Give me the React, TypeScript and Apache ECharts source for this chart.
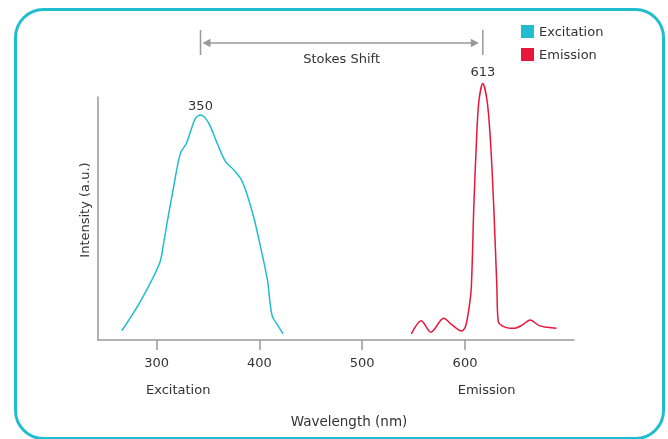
import React, { useEffect, useRef } from "react";
import * as echarts from "echarts";

const SERIES_NAMES = ["Excitation", "Emission"];
const EXC_WL = [266.2, 284.1, 302.9, 306.8, 310.7, 316.6, 323.1, 329.0, 332.9, 337.8, 342.7, 347.6, 352.4, 359.0, 367.1, 375.2, 381.7, 386.6, 394.7, 399.6, 407.8, 410.4, 412.7, 417.6, 423.0];
const EXC_INT = [3.8, 15.8, 31.6, 39.8, 49.4, 63.1, 76.8, 80.9, 85.7, 91.2, 92.6, 91.2, 87.8, 80.9, 73.4, 70.0, 66.5, 61.7, 50.1, 41.2, 24.7, 15.1, 9.6, 6.2, 2.5];
const EM_WL = [547.8, 557.4, 566.8, 579.2, 587.4, 596.5, 600.4, 603.6, 606.1, 608.5, 611.1, 613.4, 617.3, 621.6, 624.8, 628.0, 631.0, 632.4, 639.6, 647.7, 655.8, 663.3, 672.1, 680.2, 689.0];
const EM_INT = [2.5, 7.9, 3.2, 8.9, 6.2, 3.7, 5.5, 12.3, 21.5, 54.2, 81.6, 98.0, 105.6, 98.0, 81.6, 54.2, 21.5, 7.5, 5.2, 4.8, 6.2, 8.2, 5.9, 5.2, 4.8];
const PEAK_LABELS = ["350", "613"];
const TICK_VALUES = [300, 400, 500, 600];
const X_MIN = 243;
const X_MAX = 706;
const Y_MIN = 0;
const Y_MAX = 100;
const SUB_LABELS = ["Excitation", "Emission"];
const SUB_LABEL_AT = [321, 621];
const X_NAME = "Wavelength (nm)";
const Y_NAME = "Intensity (a.u.)";
const SHIFT_LABEL = "Stokes Shift";

const CYAN = "#20BDCE";
const RED = "#E8173C";
const GREY = "#999999";
const TEXT = "#333333";
const FONT = "DejaVu Sans";

function pairs(xs: number[], ys: number[]) {
  return xs.map((x, i) => [x, ys[i]]);
}
function peak(xs: number[], ys: number[]) {
  let k = 0;
  ys.forEach((v, i) => { if (v > ys[k]) k = i; });
  return [xs[k], ys[k]];
}

export default function App() {
  const ref = useRef<HTMLDivElement>(null);
  useEffect(() => {
    const chart = echarts.init(ref.current!, null, { renderer: "svg" });
    const excPeak = peak(EXC_WL, EXC_INT);
    const emPeak = peak(EM_WL, EM_INT);
    chart.setOption({
      animation: false,
      textStyle: { fontFamily: FONT, color: TEXT },
      grid: { left: 98, right: 94, top: 97, bottom: 99, containLabel: false },
      legend: {
        data: SERIES_NAMES,
        orient: "vertical",
        left: 521,
        top: 25,
        padding: 0,
        icon: "rect",
        itemWidth: 13,
        itemHeight: 13,
        itemGap: 10,
        textStyle: { fontSize: 13, color: TEXT, fontFamily: FONT },
      },
      xAxis: {
        type: "value",
        min: X_MIN,
        max: X_MAX,
        name: X_NAME,
        nameLocation: "middle",
        nameGap: 74,
        nameTextStyle: { fontSize: 13.5, color: TEXT, fontFamily: FONT, padding: [0, 0, 0, 26] },
        axisLine: { show: true, lineStyle: { color: GREY, width: 1.5 } },
        axisTick: { show: true, customValues: TICK_VALUES, length: 10, lineStyle: { color: GREY, width: 1.5 } },
        axisLabel: { show: true, customValues: TICK_VALUES, margin: 16, fontSize: 13, color: TEXT, fontFamily: FONT },
        splitLine: { show: false },
      },
      yAxis: {
        type: "value",
        min: Y_MIN,
        max: Y_MAX,
        name: Y_NAME,
        nameLocation: "middle",
        nameRotate: 90,
        nameGap: 7,
        nameTextStyle: { fontSize: 13, color: TEXT, fontFamily: FONT, padding: [0, 0, 0, 17] },
        axisLine: { show: true, lineStyle: { color: GREY, width: 1.5 } },
        axisTick: { show: false },
        axisLabel: { show: false },
        splitLine: { show: false },
      },
      series: [
        {
          name: SERIES_NAMES[0],
          type: "line",
          data: pairs(EXC_WL, EXC_INT),
          smooth: 0.3,
          clip: false,
          showSymbol: false,
          symbol: "none",
          color: CYAN,
          lineStyle: { color: CYAN, width: 1.5 },
        },
        {
          name: SERIES_NAMES[1],
          type: "line",
          data: pairs(EM_WL, EM_INT),
          smooth: 0.3,
          clip: false,
          showSymbol: false,
          symbol: "none",
          color: RED,
          lineStyle: { color: RED, width: 1.5 },
        },
      ],
    });

    const pExc = chart.convertToPixel({ gridIndex: 0 }, excPeak);
    const pEm = chart.convertToPixel({ gridIndex: 0 }, emPeak);
    const x1 = pExc[0];
    const x2 = pEm[0];
    const ay = 43;
    const graphics: any[] = [
      {
        type: "rect",
        shape: { x: 15.5, y: 9.5, width: 648, height: 429, r: 28 },
        style: { fill: "none", stroke: CYAN, lineWidth: 3 },
        silent: true,
      },
      { type: "line", shape: { x1: x1 + 8, y1: ay, x2: x2 - 8, y2: ay }, style: { stroke: GREY, lineWidth: 1.5 } },
      { type: "line", shape: { x1: x1, y1: 30, x2: x1, y2: 55 }, style: { stroke: GREY, lineWidth: 1.5 } },
      { type: "line", shape: { x1: x2, y1: 30, x2: x2, y2: 55 }, style: { stroke: GREY, lineWidth: 1.5 } },
      { type: "polygon", shape: { points: [[x1 + 2, ay], [x1 + 10, ay - 4.2], [x1 + 10, ay + 4.2]] }, style: { fill: GREY } },
      { type: "polygon", shape: { points: [[x2 - 4, ay], [x2 - 12, ay - 4.2], [x2 - 12, ay + 4.2]] }, style: { fill: GREY } },
      {
        type: "text",
        x: (x1 + x2) / 2,
        y: 58,
        style: { text: SHIFT_LABEL, align: "center", verticalAlign: "middle", fontSize: 13, fill: TEXT, fontFamily: FONT },
      },
      {
        type: "text",
        x: pExc[0],
        y: pExc[1] - 9,
        style: { text: PEAK_LABELS[0], align: "center", verticalAlign: "middle", fontSize: 13, fill: TEXT, fontFamily: FONT },
      },
      {
        type: "text",
        x: pEm[0],
        y: pEm[1] - 12,
        style: { text: PEAK_LABELS[1], align: "center", verticalAlign: "middle", fontSize: 13, fill: TEXT, fontFamily: FONT },
      },
    ];
    SUB_LABELS.forEach((t, i) => {
      const px = chart.convertToPixel({ gridIndex: 0 }, [SUB_LABEL_AT[i], 0])[0];
      graphics.push({
        type: "text",
        x: px,
        y: 389,
        style: { text: t, align: "center", verticalAlign: "middle", fontSize: 13, fill: TEXT, fontFamily: FONT },
      });
    });
    chart.setOption({ graphic: graphics });
    return () => chart.dispose();
  }, []);
  return <div ref={ref} style={{ position: "fixed", left: 0, top: 0, width: 668, height: 439 }} />;
}
